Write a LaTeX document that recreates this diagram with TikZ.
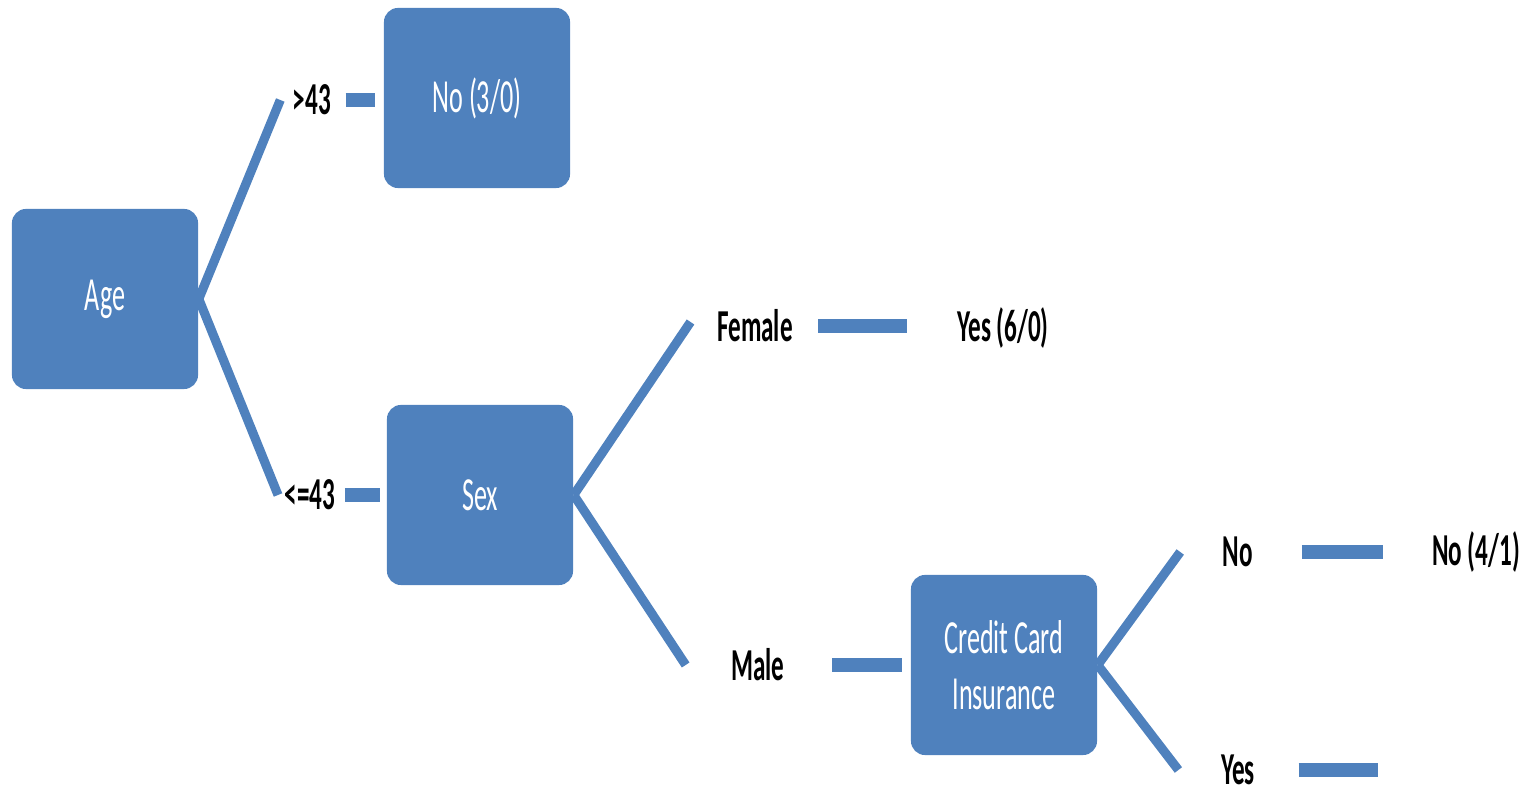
\documentclass[tikz,border=0pt]{standalone}
\usepackage{fontspec}
\setmainfont{Carlito}
\usepackage{graphicx}
\definecolor{boxblue}{RGB}{79,129,189}
\newcommand{\narrow}[1]{\scalebox{0.55}[1]{#1}}
\begin{document}
\begin{tikzpicture}[x=0.01cm,y=-0.01cm,
  box/.style={fill=boxblue, rounded corners=4pt, minimum width=1.86cm,
    minimum height=1.8cm, text=white, align=center, inner sep=0pt,
    font=\fontsize{13.5}{16}\selectfont},
  lbl/.style={font=\bfseries\fontsize{13}{15}\selectfont, inner sep=0pt},
  branch/.style={draw=boxblue, line width=2.6pt},
  bar/.style={draw=boxblue, line width=4pt}]
\useasboundingbox (0,0) rectangle (1536,792);

% decision and leaf boxes
\node[box] (age)  at (105,299)  {\narrow{Age}};
\node[box] (no30) at (477,98)   {\narrow{No (3/0)}};
\node[box] (sex)  at (480,495)  {\narrow{Sex}};
\node[box] (cci)  at (1004,665) {\narrow{Credit Card}\\\narrow{Insurance}};

% branch labels and leaf texts
\node[lbl] (gt43)   at (312,100)  {\narrow{>43}};
\node[lbl] (le43)   at (310,495)  {\narrow{<=43}};
\node[lbl] (female) at (755,326)  {\narrow{Female}};
\node[lbl] (yes60)  at (1003,328) {\narrow{Yes (6/0)}};
\node[lbl] (male)   at (758,665)  {\narrow{Male}};
\node[lbl] (no)     at (1238,552) {\narrow{No}};
\node[lbl] (no41)   at (1476,552) {\narrow{No (4/1)}};
\node[lbl] (yes)    at (1238,770) {\narrow{Yes}};
\coordinate (yesend) at (1378,773);

% branches, each stopping just short of its label
\draw[branch] (age.east) -- ([xshift=-0.12cm]gt43.west);
\draw[branch] (age.east) -- ([xshift=-0.06cm]le43.west);
\draw[branch] (sex.east) -- ([xshift=-0.26cm,yshift=0.04cm]female.west);
\draw[branch] (sex.east) -- ([xshift=-0.45cm]male.west);
\draw[branch] (cci.east) -- ([xshift=-0.42cm]no.west);
\draw[branch] (cci.east) -- ([xshift=-0.42cm]yes.west);

% short bars between label and outcome
\draw[bar, shorten <=0.14cm, shorten >=0.08cm] (gt43.east) -- (gt43.east -| no30.west);
\draw[bar, shorten <=0.09cm, shorten >=0.06cm] (le43.east) -- (le43.east -| sex.west);
\draw[bar, shorten <=0.25cm, shorten >=0.50cm] (female.east) -- (female.east -| yes60.west);
\draw[bar, shorten <=0.47cm, shorten >=0.08cm] (male.east) -- (male.east -| cci.west);
\draw[bar, shorten <=0.48cm, shorten >=0.48cm] (no.east) -- (no.east -| no41.west);
\draw[bar, shorten <=0.43cm] (yes.east) -- (yes.east -| yesend);
\end{tikzpicture}
\end{document}
